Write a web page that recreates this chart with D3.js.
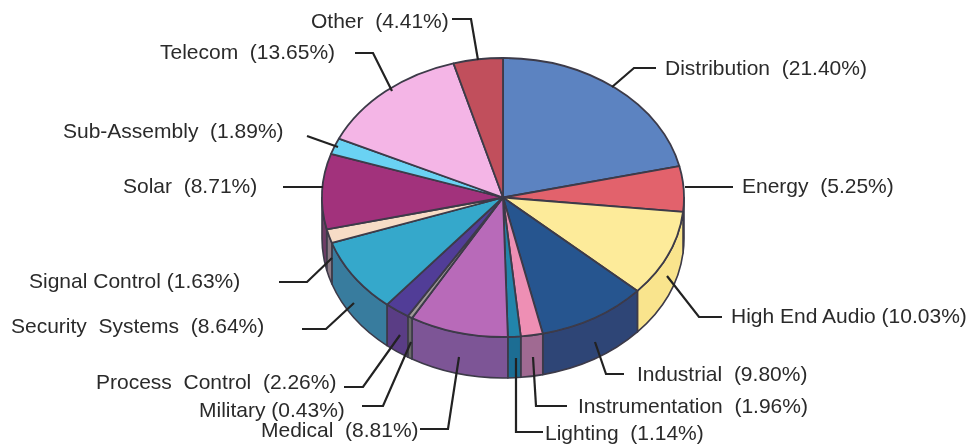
<!DOCTYPE html>
<html>
<head>
<meta charset="utf-8">
<script src="https://cdn.jsdelivr.net/npm/d3@7"></script>
<style>
  html, body { margin: 0; background: #fff; }
  text { font-family: "Liberation Sans", Arial, sans-serif; font-size: 21px; fill: #2b2b2b; }
</style>
</head>
<body>
<div id="chart"></div>
<script>
// data
const categories = ["Distribution", "Energy", "High End Audio", "Industrial", "Instrumentation",
  "Lighting", "Medical", "Military", "Process Control", "Security Systems",
  "Signal Control", "Solar", "Sub-Assembly", "Telecom", "Other"];
const shares = [21.40, 5.25, 10.03, 9.80, 1.96, 1.14, 8.81, 0.43, 2.26, 8.64, 1.63, 8.71, 1.89, 13.65, 4.41];
const labels = ["Distribution  (21.40%)", "Energy  (5.25%)", "High End Audio (10.03%)", "Industrial  (9.80%)",
  "Instrumentation  (1.96%)", "Lighting  (1.14%)", "Medical  (8.81%)", "Military (0.43%)",
  "Process  Control  (2.26%)", "Security  Systems  (8.64%)", "Signal Control (1.63%)", "Solar  (8.71%)",
  "Sub-Assembly  (1.89%)", "Telecom  (13.65%)", "Other  (4.41%)"];

// colours, top face and rim
const topColors = ["#5b83c1", "#e2626c", "#fdeb9a", "#27558f", "#ee8fb4", "#2185ab", "#b86ab9", "#a09a98",
  "#513d97", "#35a8cb", "#f7dcc6", "#a2307c", "#6bd2f3", "#f4b5e6", "#c1505b"];
const sideColors = ["#4c6a9c", "#7a5a5f", "#f9e48d", "#2f4476", "#a06a92", "#1f6d93", "#7d5496", "#6b6b6b",
  "#5a3c85", "#397c9e", "#8c7a85", "#6e3d66", "#5aa8c8", "#c090b8", "#96404a"];

// label anchors (left x, baseline y) and leader polylines
const labelPos = [[665, 75], [742, 193], [731, 323], [637, 381], [578, 413], [545, 440], [261, 437], [199, 417],
  [96, 389], [11, 333], [29, 288], [123, 193], [63, 138], [160, 59], [311, 28]];
const leaders = [
  [[612, 87], [634, 68], [656, 68]],
  [[685, 187], [733, 187]],
  [[667, 276], [699, 317], [722, 317]],
  [[595, 342], [606, 374], [624, 374]],
  [[533, 357], [536, 406], [567, 406]],
  [[516, 358], [516, 432], [543, 432]],
  [[459, 357], [448, 429], [420, 429]],
  [[411, 342], [383, 406], [362, 406]],
  [[400, 335], [363, 387], [344, 387]],
  [[354, 303], [326, 329], [302, 329]],
  [[332, 258], [307, 282], [279, 282]],
  [[323, 187], [283, 187]],
  [[338, 147], [307, 136]],
  [[392, 91], [373, 53], [355, 53]],
  [[478, 60], [471, 19], [452, 19]]
];

const width = 971, height = 446;
const cx = 503, cy = 197.5, rx = 181, ry = 139.5, depth = 41;

const svg = d3.select("#chart").append("svg")
  .attr("width", width)
  .attr("height", height)
  .style("display", "block");

// the source is a soft scan, take the edge off everything a little
svg.append("filter")
  .attr("id", "soft")
  .append("feGaussianBlur")
  .attr("stdDeviation", 0.4);
const root = svg.append("g").attr("filter", "url(#soft)");

const slices = d3.pie().sort(null).value(d => d)(shares);

// point on the rim of the tilted disc; angle 0 is the top, going clockwise
const rimX = a => cx + rx * Math.sin(a);
const rimY = a => cy - ry * Math.cos(a);

// side walls only exist on the front half
const wall = root.append("g");
slices.forEach((s, i) => {
  let a0 = Math.max(s.startAngle, Math.PI / 2);
  let a1 = Math.min(s.endAngle, Math.PI * 1.5);
  if (a1 <= a0) return;
  let p = d3.path();
  p.moveTo(rimX(a0), rimY(a0));
  p.lineTo(rimX(a0), rimY(a0) + depth);
  let d = `${p} A${rx},${ry} 0 0 1 ${rimX(a1)},${rimY(a1) + depth} L${rimX(a1)},${rimY(a1)} A${rx},${ry} 0 0 0 ${rimX(a0)},${rimY(a0)}Z`;
  wall.append("path")
    .attr("d", d)
    .attr("fill", sideColors[i])
    .attr("stroke", "#3c3a48")
    .attr("stroke-width", 1.6)
    .attr("stroke-linejoin", "round");
});

// top face, arc drawn round then squashed
const arc = d3.arc().innerRadius(0).outerRadius(rx);
root.append("g")
  .attr("transform", `translate(${cx},${cy}) scale(1,${ry / rx})`)
  .selectAll("path")
  .data(slices)
  .join("path")
  .attr("d", arc)
  .attr("fill", (d, i) => topColors[i])
  .attr("stroke", "#3c3a48")
  .attr("stroke-width", 1.8)
  .attr("stroke-linejoin", "round")
  .attr("vector-effect", "non-scaling-stroke");

// leaders
const line = d3.line();
root.append("g")
  .selectAll("path")
  .data(leaders)
  .join("path")
  .attr("d", line)
  .attr("fill", "none")
  .attr("stroke", "#222")
  .attr("stroke-width", 2.2);

// labels
root.append("g")
  .selectAll("text")
  .data(labels)
  .join("text")
  .attr("x", (d, i) => labelPos[i][0])
  .attr("y", (d, i) => labelPos[i][1])
  .attr("xml:space", "preserve")
  .style("white-space", "pre")
  .text(d => d);
</script>
</body>
</html>
